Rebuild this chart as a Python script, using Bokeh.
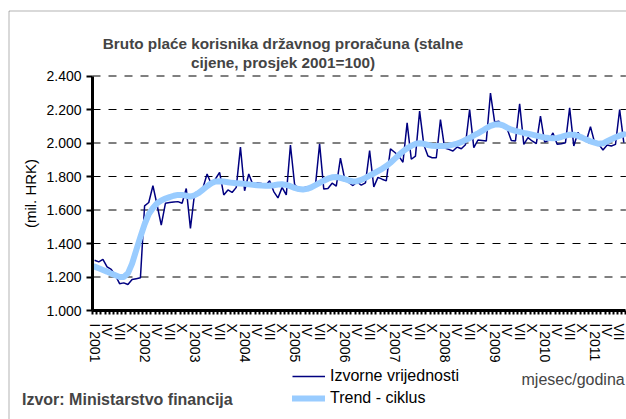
from bokeh.plotting import figure
from bokeh.models import (FixedTicker, Label, Legend, LegendItem, Range1d,
                          BoxAnnotation)
from bokeh.embed import file_html
from bokeh.resources import INLINE

# ---------------- data ----------------
years = [2001, 2002, 2003, 2004, 2005, 2006, 2007, 2008, 2009, 2010, 2011]
quarter_month_labels = ["I", "IV", "VII", "X"]

izvorne = [
    1300, 1290, 1305, 1260, 1245, 1210, 1160, 1165, 1155, 1185, 1190, 1195,   # 2001
    1625, 1645, 1745, 1630, 1510, 1640, 1645, 1648, 1650, 1640, 1728, 1490,   # 2002
    1700, 1712, 1732, 1815, 1755, 1785, 1825, 1690, 1720, 1705, 1735, 1975,   # 2003
    1715, 1815, 1750, 1762, 1758, 1745, 1775, 1710, 1672, 1735, 1690, 1988,   # 2004
    1752, 1725, 1732, 1738, 1742, 1746, 1995, 1725, 1728, 1760, 1742, 1910,   # 2005
    1788, 1765, 1746, 1768, 1748, 1762, 1955, 1738, 1795, 1784, 1774, 1965,   # 2006
    1945, 1922, 1885, 2120, 1903, 1922, 2190, 1990, 1922, 1912, 1912, 2140,   # 2007
    1970, 1962, 1952, 1976, 1966, 1990, 2200, 1972, 2018, 2015, 2012, 2298,   # 2008
    2126, 2130, 2095, 2085, 2015, 2012, 2234, 1992, 2032, 2012, 1996, 2160,   # 2009
    2006, 2016, 2060, 1992, 1996, 2002, 2210, 1982, 2064, 2022, 2012, 2097,   # 2010
    2002, 1992, 1958, 1988, 1982, 1992, 2200, 2002,                           # 2011
]

trend_ciklus = [
    1262, 1252, 1242, 1232, 1220, 1210, 1200, 1200, 1222, 1280, 1360, 1440,
    1515, 1575, 1612, 1640, 1657, 1668, 1677, 1685, 1690, 1690, 1685, 1680,
    1688, 1702, 1722, 1742, 1760, 1770, 1772, 1770, 1766, 1762, 1760, 1758,
    1756, 1753, 1750, 1748, 1746, 1745, 1745, 1748, 1752, 1754, 1750, 1742,
    1732, 1725, 1722, 1726, 1735, 1748, 1762, 1775, 1787, 1795, 1797, 1792,
    1785, 1776, 1770, 1772, 1780, 1792, 1805, 1818, 1832, 1846, 1862, 1882,
    1905, 1928, 1950, 1968, 1983, 1995, 1998, 1995, 1988, 1984, 1982, 1982,
    1982, 1985, 1990, 1996, 2005, 2018, 2030, 2045, 2058, 2072, 2088, 2102,
    2110, 2112, 2105, 2092, 2080, 2072, 2066, 2060, 2055, 2050, 2044, 2038,
    2033, 2030, 2028, 2030, 2036, 2044, 2050, 2050, 2042, 2032, 2020, 2010,
    2002, 1995, 1998, 2010, 2022, 2034, 2044, 2052,
]

y_ticks = [1000, 1200, 1400, 1600, 1800, 2000, 2200, 2400]
y_tick_labels = ["1.000", "1.200", "1.400", "1.600", "1.800", "2.000", "2.200", "2.400"]

title_lines = ["Bruto plaće korisnika državnog proračuna (stalne",
               "cijene, prosjek 2001=100)"]
y_axis_title = "(mil. HRK)"
x_axis_title = "mjesec/godina"
source_text = "Izvor: Ministarstvo financija"
series_names = ["Izvorne vrijednosti", "Trend - ciklus"]

# ---------------- layout constants (canvas pixels) ----------------
W, H = 626, 419
AX_LEFT, AX_RIGHT = 92.0, 625.4     # category axis extent
AX_TOP, AX_BOTTOM = 75.5, 310.0     # value axis extent

n = len(izvorne)
x0, x1 = -0.5, n - 0.5
y0, y1 = y_ticks[0], y_ticks[-1]
px_x = (AX_RIGHT - AX_LEFT) / (x1 - x0)
px_y = (AX_BOTTOM - AX_TOP) / (y1 - y0)
xr = Range1d(x0 - AX_LEFT / px_x, x1 + (W - AX_RIGHT) / px_x)
yr = Range1d(y0 - (H - AX_BOTTOM) / px_y, y1 + AX_TOP / px_y)


def sy(y):  # canvas y (top-down) -> screen units (frame bottom-up)
    return H - y


months = list(range(n))
x_label_pos = list(range(0, n, 3))
x_label_map = {}
for k in x_label_pos:
    q = (k % 12) // 3
    yr_ = years[k // 12]
    x_label_map[k] = f"I {yr_}" if q == 0 else quarter_month_labels[q]
x_minor = [i - 0.5 for i in range(n + 1)]

FONT = "Liberation Sans"

p = figure(width=W, height=H, output_backend="svg", toolbar_location=None,
           x_range=xr, y_range=yr, min_border=0)
p.outline_line_color = None
p.background_fill_color = "white"
p.border_fill_color = "white"
p.xgrid.visible = False
p.ygrid.visible = False

# dashed horizontal gridlines over the category axis extent
grid_vals = y_ticks[1:]
p.multi_line(xs=[[x0, x1] for _ in grid_vals], ys=[[v, v] for v in grid_vals],
             line_color="black", line_width=1, line_dash="8 8")

# y axis
p.yaxis.fixed_location = x0
p.yaxis.bounds = (y0, y1)
p.yaxis.ticker = FixedTicker(ticks=y_ticks, minor_ticks=[])
p.yaxis.major_label_overrides = dict(zip(y_ticks, y_tick_labels))
p.yaxis.axis_line_width = 3
p.yaxis.axis_line_color = "black"
p.yaxis.major_tick_in = 0
p.yaxis.major_tick_out = 6
p.yaxis.major_tick_line_width = 2
p.yaxis.minor_tick_out = 0
p.yaxis.minor_tick_in = 0
p.yaxis.major_label_standoff = 5
p.yaxis.major_label_text_font = FONT
p.yaxis.major_label_text_font_size = "14px"
p.yaxis.major_label_text_color = "black"
p.yaxis.axis_label = y_axis_title
p.yaxis.axis_label_text_font = FONT
p.yaxis.axis_label_text_font_size = "15px"
p.yaxis.axis_label_text_font_style = "normal"
p.yaxis.axis_label_text_color = "black"
p.yaxis.axis_label_standoff = 4

# x axis
p.xaxis.fixed_location = y0
p.xaxis.bounds = (x0, x1)
p.xaxis.ticker = FixedTicker(ticks=x_label_pos, minor_ticks=x_minor)
p.xaxis.major_label_overrides = x_label_map
p.xaxis.axis_line_width = 3
p.xaxis.axis_line_color = "black"
p.xaxis.major_tick_in = 0
p.xaxis.major_tick_out = 0
p.xaxis.minor_tick_in = 0
p.xaxis.minor_tick_out = 4
p.xaxis.minor_tick_line_width = 2
p.xaxis.minor_tick_line_color = "black"
p.xaxis.major_label_orientation = "vertical"
p.xaxis.major_label_standoff = 9
p.xaxis.major_label_text_font = FONT
p.xaxis.major_label_text_font_size = "14px"
p.xaxis.major_label_text_color = "black"

# series
r1 = p.line(months, izvorne, line_color="#000080", line_width=1.5)
r2 = p.line(months, trend_ciklus, line_color="#99CCFF", line_width=6,
            line_join="round", line_cap="round")

LEG_LEFT, LEG_TOP, ITEM_H, ITEM_GAP = 292, 367, 18, 4
legend = Legend(items=[LegendItem(label=series_names[0], renderers=[r1]),
                       LegendItem(label=series_names[1], renderers=[r2])],
                location=(LEG_LEFT, sy(LEG_TOP + 2 * ITEM_H + ITEM_GAP)),
                glyph_width=33, glyph_height=ITEM_H, label_height=ITEM_H,
                label_standoff=5, spacing=ITEM_GAP, padding=0, margin=0,
                border_line_color=None, background_fill_alpha=0,
                label_text_font=FONT, label_text_font_size="16px",
                label_text_color="black")
p.add_layout(legend)

# chart border (left and top edges visible in the crop)
p.add_layout(BoxAnnotation(left=8.5, right=W + 50, top=sy(10.5), bottom=-50,
                           left_units="screen", right_units="screen",
                           top_units="screen", bottom_units="screen",
                           fill_alpha=0, line_color="black", line_width=1))

# texts
TITLE_CX = 282.5
p.add_layout(Label(x=TITLE_CX, y=sy(42.5), x_units="screen", y_units="screen",
                   text=title_lines[0], text_align="center",
                   text_baseline="alphabetic", text_font=FONT,
                   text_font_size="15.3px", text_font_style="bold"))
p.add_layout(Label(x=TITLE_CX, y=sy(61.5), x_units="screen", y_units="screen",
                   text=title_lines[1], text_align="center",
                   text_baseline="alphabetic", text_font=FONT,
                   text_font_size="15.3px", text_font_style="bold"))
p.add_layout(Label(x=521, y=sy(379), x_units="screen", y_units="screen",
                   text=x_axis_title, text_align="left", text_baseline="middle",
                   text_font=FONT, text_font_size="16px"))
p.add_layout(Label(x=21.5, y=sy(399), x_units="screen", y_units="screen",
                   text=source_text, text_align="left", text_baseline="middle",
                   text_font=FONT, text_font_size="16px", text_font_style="bold"))

open("out.html", "w").write(file_html(p, INLINE))
